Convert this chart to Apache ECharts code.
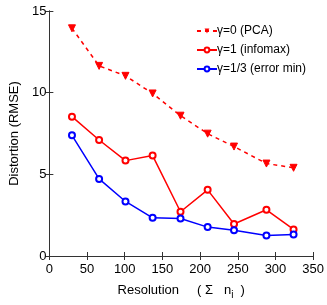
<!DOCTYPE html>
<html><head><meta charset="utf-8">
<script src="https://cdn.jsdelivr.net/npm/echarts@6/dist/echarts.min.js"></script>
<style>html,body{margin:0;padding:0;background:#fff}#c{width:327px;height:305px}</style>
</head><body><div id="c"></div>
<script>
const resolution = [30, 66, 101, 137, 174, 210, 245, 288, 324];
const pca = [13.94, 11.64, 11.03, 9.95, 8.59, 7.49, 6.70, 5.66, 5.40];
const infomax = [8.53, 7.10, 5.84, 6.15, 2.71, 4.05, 1.96, 2.83, 1.63];
const errmin = [7.39, 4.72, 3.34, 2.34, 2.30, 1.77, 1.57, 1.26, 1.32];
const seriesNames = ['γ=0 (PCA)', 'γ=1 (infomax)', 'γ=1/3 (error min)'];
const xTicks = [0, 50, 100, 150, 200, 250, 300, 350];
const yTicks = [0, 5, 10, 15];

const font = 'Liberation Sans, Arial, sans-serif';
const narrow = 'Liberation Sans Narrow, Arial Narrow, Liberation Sans, sans-serif';
const pair = a => a.map((v, i) => [resolution[i], v]);
const chart = echarts.init(document.getElementById('c'));
const axisCommon = {
  axisLine: {show: true, lineStyle: {color: '#333', width: 1}},
  axisTick: {show: true, inside: true, length: 4, lineStyle: {color: '#333'}},
  splitLine: {show: false},
};
chart.setOption({
  animation: false,
  textStyle: {fontFamily: font, color: '#000'},
  grid: {left: 35, right: 13, top: 11, bottom: 48, containLabel: false},
  legend: {
    orient: 'vertical', right: 16, top: 20, itemGap: 7, itemWidth: 20, itemHeight: 6,
    textStyle: {fontFamily: font, fontSize: 12, color: '#000', padding: [0,0,0,-5]},
    data: seriesNames
  },
  xAxis: [{
    type: 'value', min: 0, max: 350, interval: 50, position: 'bottom',
    ...axisCommon,
    axisLabel: {color: '#000', fontSize: 13, fontFamily: narrow, margin: 7, formatter: v => xTicks.includes(v) ? String(v) : ''},
    name: 'Resolution     ( Σ   n{s|i}  )', nameLocation: 'middle', nameGap: 24,
    nameTextStyle: {color: '#000', fontSize: 13, fontFamily: font, rich: {s: {fontSize: 10, fontFamily: font, color: '#000', padding: [10,0,0,0]}}}
  }, {
    type: 'value', min: 0, max: 350, interval: 50, position: 'top',
    ...axisCommon, axisLabel: {show: false}
  }],
  yAxis: [{
    type: 'value', min: 0, max: 15, interval: 5, position: 'left',
    ...axisCommon,
    axisLabel: {color: '#000', fontSize: 13, fontFamily: narrow, margin: 3, formatter: v => yTicks.includes(v) ? String(v) : ''},
    name: 'Distortion (RMSE)', nameLocation: 'middle', nameGap: 21,
    nameTextStyle: {color: '#000', fontSize: 13, fontFamily: font}
  }, {
    type: 'value', min: 0, max: 15, interval: 5, position: 'right',
    ...axisCommon, axisLabel: {show: false}
  }],
  series: [{
    name: seriesNames[0], type: 'line', data: pair(pca),
    symbol: 'triangle', symbolRotate: 180, symbolSize: 7,
    lineStyle: {color: '#ff0000', width: 1.5, type: [4, 4]},
    itemStyle: {color: '#ff0000', borderColor: '#ff0000'},
  }, {
    name: seriesNames[1], type: 'line', data: pair(infomax),
    symbol: 'emptyCircle', symbolSize: 6,
    lineStyle: {color: '#ff0000', width: 1.5},
    itemStyle: {color: '#ff0000', borderColor: '#ff0000', borderWidth: 1.5},
  }, {
    name: seriesNames[2], type: 'line', data: pair(errmin),
    symbol: 'emptyCircle', symbolSize: 6,
    lineStyle: {color: '#0000ff', width: 1.5},
    itemStyle: {color: '#0000ff', borderColor: '#0000ff', borderWidth: 1.5},
  }]
});
</script></body></html>
